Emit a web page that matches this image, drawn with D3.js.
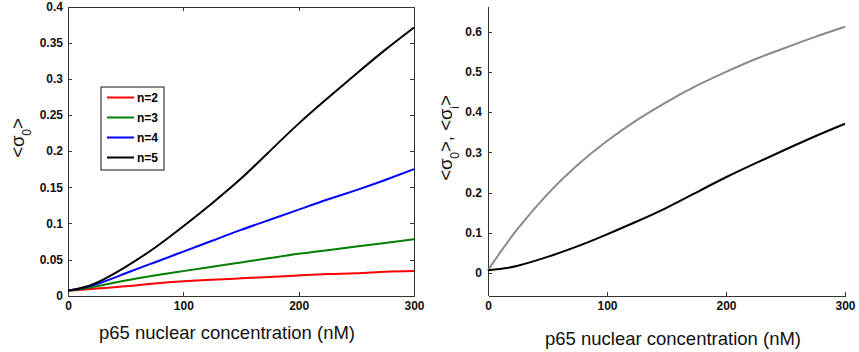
<!DOCTYPE html>
<html>
<head>
    <meta charset="utf-8">
    <title>sigma vs p65</title>
    <script src="https://d3js.org/d3.v7.min.js"></script>
    <style>
        body { margin: 0; background: #fff; }
        svg { font-family: 'Liberation Sans', Arial, sans-serif; }
        .axis path, .axis line { fill: none; stroke: #333; stroke-width: 1; shape-rendering: crispEdges; }
        .axis text { font-size: 12px; font-weight: bold; fill: #111; }
        .line { fill: none; stroke-width: 2; }
        .title { font-size: 18.5px; fill: #111; }
    </style>
</head>
<body>
<script>
    // data
    const concX = [0, 10, 25, 50, 75, 100, 125, 150, 175, 200, 225, 250, 275, 300];
    const n2 = [0.007, 0.008, 0.010, 0.013, 0.017, 0.020, 0.022, 0.024, 0.026, 0.028, 0.030, 0.031, 0.033, 0.034];
    const n3 = [0.007, 0.009, 0.013, 0.021, 0.028, 0.034, 0.040, 0.046, 0.052, 0.058, 0.063, 0.068, 0.073, 0.078];
    const n4 = [0.007, 0.010, 0.016, 0.031, 0.046, 0.061, 0.076, 0.091, 0.105, 0.119, 0.133, 0.146, 0.160, 0.175];
    const n5 = [0.007, 0.010, 0.018, 0.040, 0.066, 0.096, 0.128, 0.162, 0.200, 0.238, 0.273, 0.307, 0.340, 0.371];
    const sigmaI = [0.007, 0.050, 0.110, 0.196, 0.268, 0.328, 0.380, 0.425, 0.465, 0.500, 0.532, 0.560, 0.587, 0.612];
    const legendLabels = ["n=2", "n=3", "n=4", "n=5"];
    const seriesColors = ["#ff0000", "#008000", "#0000ff", "#000000"];
    const xTicks = [0, 100, 200, 300];
    const leftYTicks = [0, 0.05, 0.1, 0.15, 0.2, 0.25, 0.3, 0.35, 0.4];
    const rightYTicks = [0, 0.1, 0.2, 0.3, 0.4, 0.5, 0.6];

    const W = 859, H = 352;
    const svg = d3.select("body").append("svg").attr("width", W).attr("height", H);

    const yFmt = d => d === 0 ? "0" : String(d);

    // ---------- left panel ----------
    const L = { x0: 68, x1: 414, y0: 6.5, y1: 295.7 };
    const xL = d3.scaleLinear().domain([0, 300]).range([L.x0, L.x1]);
    const yL = d3.scaleLinear().domain([0, 0.4]).range([L.y1, L.y0]);

    svg.append("g").attr("class", "axis")
        .attr("transform", `translate(0,${L.y1})`)
        .call(d3.axisBottom(xL).tickValues(xTicks).tickSizeInner(-4).tickSizeOuter(0).tickPadding(6));
    svg.append("g").attr("class", "axis")
        .attr("transform", `translate(0,${L.y0})`)
        .call(d3.axisTop(xL).tickValues(xTicks).tickSizeInner(-4).tickSizeOuter(0).tickFormat(""));
    svg.append("g").attr("class", "axis")
        .attr("transform", `translate(${L.x0},0)`)
        .call(d3.axisLeft(yL).tickValues(leftYTicks).tickSizeInner(-4).tickSizeOuter(0).tickPadding(5).tickFormat(yFmt));
    svg.append("g").attr("class", "axis")
        .attr("transform", `translate(${L.x1},0)`)
        .call(d3.axisRight(yL).tickValues(leftYTicks).tickSizeInner(-4).tickSizeOuter(0).tickFormat(""));

    const lineL = ys => d3.line().x((d, i) => xL(concX[i])).y(d => yL(d)).curve(d3.curveNatural)(ys);
    [n2, n3, n4, n5].forEach((s, i) => {
        svg.append("path").attr("class", "line").attr("stroke", seriesColors[i]).attr("d", lineL(s));
    });

    // legend
    const lg = svg.append("g").attr("transform", "translate(101,87)");
    lg.append("rect").attr("width", 63).attr("height", 83)
        .attr("fill", "#fff").attr("stroke", "#111").attr("stroke-width", 1);
    legendLabels.forEach((lab, i) => {
        const y = 10.5 + i * 20;
        lg.append("line").attr("x1", 6).attr("x2", 33).attr("y1", y).attr("y2", y)
            .attr("stroke", seriesColors[i]).attr("stroke-width", 2);
        lg.append("text").attr("x", 36).attr("y", y).attr("dy", "0.36em")
            .style("font-size", "12px").style("font-weight", "bold").text(lab);
    });

    svg.append("text").attr("class", "title").attr("x", 227).attr("y", 339)
        .attr("text-anchor", "middle").text("p65 nuclear concentration (nM)");

    const yLab1 = svg.append("text").attr("class", "title")
        .attr("transform", "translate(24,138) rotate(-90)").attr("text-anchor", "middle");
    yLab1.append("tspan").text("<σ");
    yLab1.append("tspan").attr("baseline-shift", "sub").style("font-size", "12px").text("0");
    yLab1.append("tspan").text(">");

    // ---------- right panel ----------
    const R = { x0: 488, x1: 845, y0: 6.7, y1: 295.7 };
    const xR = d3.scaleLinear().domain([0, 300]).range([R.x0, R.x1]);
    const yR = d3.scaleLinear().domain([-0.0565, 0.662]).range([R.y1, R.y0]);

    svg.append("g").attr("class", "axis")
        .attr("transform", `translate(0,${R.y1})`)
        .call(d3.axisBottom(xR).tickValues(xTicks).tickSizeInner(-4).tickSizeOuter(0).tickPadding(6));
    svg.append("g").attr("class", "axis")
        .attr("transform", `translate(${R.x0},0)`)
        .call(d3.axisLeft(yR).tickValues(rightYTicks).tickSizeInner(-4).tickSizeOuter(0).tickPadding(6).tickFormat(yFmt));

    const lineR = ys => d3.line().x((d, i) => xR(concX[i])).y(d => yR(d)).curve(d3.curveNatural)(ys);
    svg.append("path").attr("class", "line").attr("stroke", "#8a8a8a").attr("d", lineR(sigmaI));
    svg.append("path").attr("class", "line").attr("stroke", "#000").attr("d", lineR(n5));

    svg.append("text").attr("class", "title").attr("x", 673).attr("y", 345)
        .attr("text-anchor", "middle").text("p65 nuclear concentration (nM)");

    const yLab2 = svg.append("text").attr("class", "title")
        .attr("transform", "translate(452,138) rotate(-90)").attr("text-anchor", "middle");
    yLab2.append("tspan").text("<σ");
    yLab2.append("tspan").attr("baseline-shift", "sub").style("font-size", "12px").text("0");
    yLab2.append("tspan").text(">, <σ");
    yLab2.append("tspan").attr("baseline-shift", "sub").style("font-size", "12px").text("i");
    yLab2.append("tspan").text(">");
</script>
</body>
</html>
